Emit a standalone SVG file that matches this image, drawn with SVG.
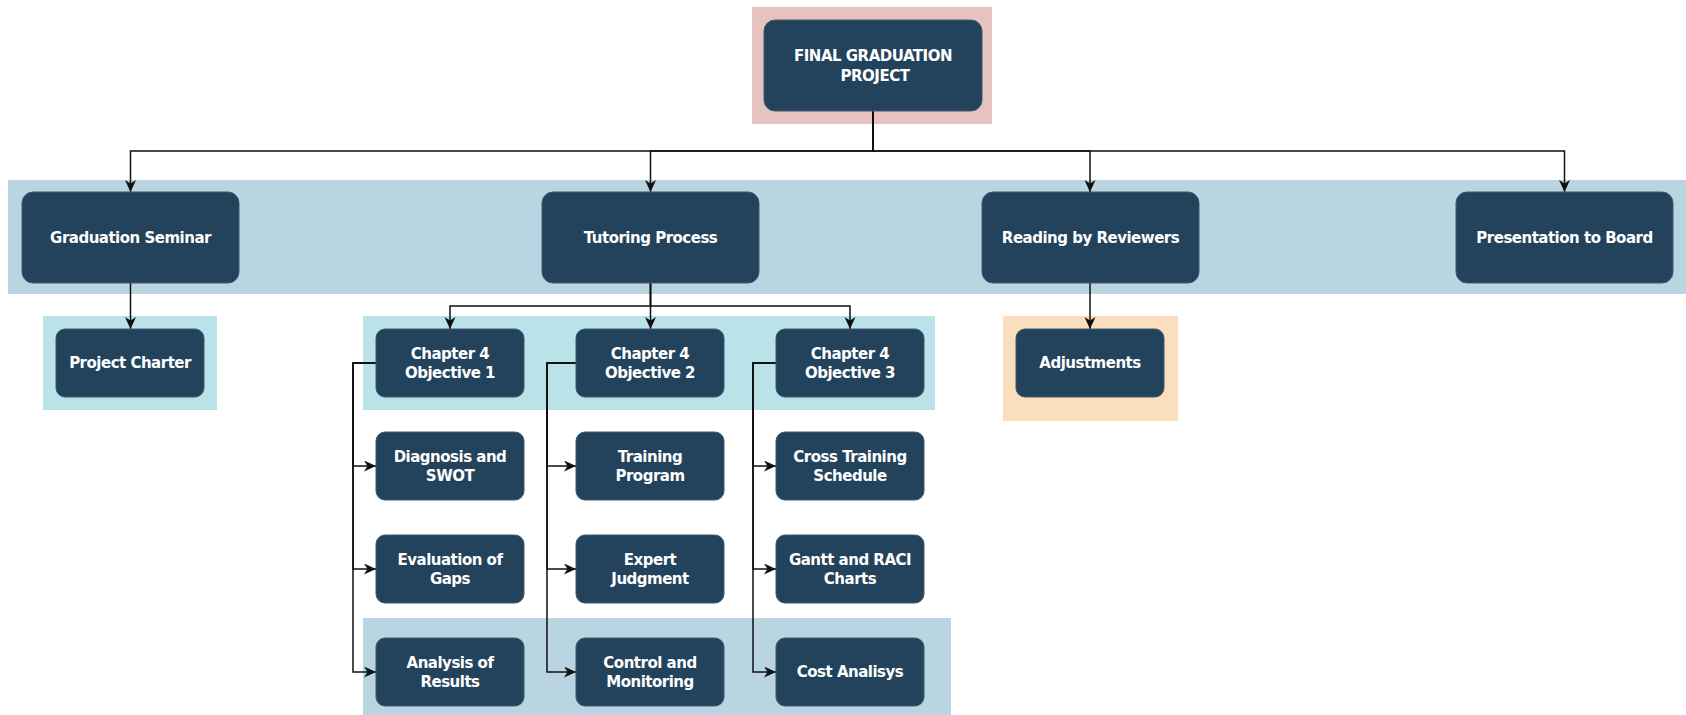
<svg xmlns="http://www.w3.org/2000/svg" width="1686" height="715" viewBox="0 0 1686 715">
  <defs>
    <marker id="arrow" markerUnits="userSpaceOnUse" markerWidth="14" markerHeight="12" refX="12" refY="5.5" orient="auto">
      <path d="M0,0 L12,5.5 L0,11 L3.5,5.5 Z" fill="#111"/>
    </marker>
    <style>
      .node { fill: #23435c; stroke: #3e5b71; stroke-width: 1; }
      .lbl { font-family: "DejaVu Sans", Verdana, sans-serif; font-weight: bold; font-size: 15px; fill: #ffffff; text-anchor: middle; letter-spacing: -0.5px; }
      .conn-a { fill: none; stroke: #111; stroke-width: 1.5; marker-end: url(#arrow); }
    </style>
  </defs>

  <rect width="1686" height="715" fill="#ffffff"/>

  <!-- background bands -->
  <g id="backgrounds">
    <rect x="752" y="7" width="240" height="117" fill="#e6c3c0"/>
    <rect x="8" y="180" width="1678" height="114" fill="#b8d5e1"/>
    <rect x="43" y="316" width="174" height="94" fill="#b9e3e8"/>
    <rect x="363" y="316" width="572" height="94" fill="#b9e3e8"/>
    <rect x="1003" y="316" width="175" height="105" fill="#fbdebd"/>
    <rect x="363" y="618" width="588" height="97" fill="#b8d5e1"/>
  </g>

  <!-- connectors -->
  <g id="connectors">
    <path class="conn-a" d="M873,111 V151 H130.5 V192"/>
    <path class="conn-a" d="M873,111 V151 H650.5 V192"/>
    <path class="conn-a" d="M873,111 V151 H1090 V192"/>
    <path class="conn-a" d="M873,111 V151 H1564.5 V192"/>

    <path class="conn-a" d="M130.5,283 V329"/>
    <path class="conn-a" d="M650.5,283 V306 H450 V329"/>
    <path class="conn-a" d="M650.5,283 V329"/>
    <path class="conn-a" d="M650.5,283 V306 H850 V329"/>
    <path class="conn-a" d="M1090,283 V329"/>

    <path class="conn-a" d="M376,363 H353 V466 H376"/>
    <path class="conn-a" d="M376,363 H353 V569 H376"/>
    <path class="conn-a" d="M376,363 H353 V672 H376"/>

    <path class="conn-a" d="M576,363 H547 V466 H576"/>
    <path class="conn-a" d="M576,363 H547 V569 H576"/>
    <path class="conn-a" d="M576,363 H547 V672 H576"/>

    <path class="conn-a" d="M776,363 H753 V466 H776"/>
    <path class="conn-a" d="M776,363 H753 V569 H776"/>
    <path class="conn-a" d="M776,363 H753 V672 H776"/>
  </g>

  <!-- root -->
  <g id="final-graduation-project">
    <rect class="node" x="764" y="20" width="218" height="91" rx="11"/>
    <text class="lbl" x="873" y="60.5">FINAL GRADUATION</text>
    <text class="lbl" x="875" y="81">PROJECT</text>
  </g>

  <!-- level 1 -->
  <g id="graduation-seminar">
    <rect class="node" x="22" y="192" width="217" height="91" rx="11"/>
    <text class="lbl" x="130.5" y="243">Graduation Seminar</text>
  </g>
  <g id="tutoring-process">
    <rect class="node" x="542" y="192" width="217" height="91" rx="11"/>
    <text class="lbl" x="650.5" y="243">Tutoring Process</text>
  </g>
  <g id="reading-by-reviewers">
    <rect class="node" x="982" y="192" width="217" height="91" rx="11"/>
    <text class="lbl" x="1090.5" y="243">Reading by Reviewers</text>
  </g>
  <g id="presentation-to-board">
    <rect class="node" x="1456" y="192" width="217" height="91" rx="11"/>
    <text class="lbl" x="1564.5" y="243">Presentation to Board</text>
  </g>

  <!-- level 2 -->
  <g id="project-charter">
    <rect class="node" x="56" y="329" width="148" height="68" rx="9"/>
    <text class="lbl" x="130" y="368">Project Charter</text>
  </g>
  <g id="chapter4-objective1">
    <rect class="node" x="376" y="329" width="148" height="68" rx="9"/>
    <text class="lbl" x="450" y="358.5">Chapter 4</text>
    <text class="lbl" x="450" y="378">Objective 1</text>
  </g>
  <g id="chapter4-objective2">
    <rect class="node" x="576" y="329" width="148" height="68" rx="9"/>
    <text class="lbl" x="650" y="358.5">Chapter 4</text>
    <text class="lbl" x="650" y="378">Objective 2</text>
  </g>
  <g id="chapter4-objective3">
    <rect class="node" x="776" y="329" width="148" height="68" rx="9"/>
    <text class="lbl" x="850" y="358.5">Chapter 4</text>
    <text class="lbl" x="850" y="378">Objective 3</text>
  </g>
  <g id="adjustments">
    <rect class="node" x="1016" y="329" width="148" height="68" rx="9"/>
    <text class="lbl" x="1090" y="368">Adjustments</text>
  </g>

  <!-- objective 1 tasks -->
  <g id="diagnosis-swot">
    <rect class="node" x="376" y="432" width="148" height="68" rx="9"/>
    <text class="lbl" x="450" y="461.5">Diagnosis and</text>
    <text class="lbl" x="450" y="481">SWOT</text>
  </g>
  <g id="evaluation-of-gaps">
    <rect class="node" x="376" y="535" width="148" height="68" rx="9"/>
    <text class="lbl" x="450" y="564.5">Evaluation of</text>
    <text class="lbl" x="450" y="584">Gaps</text>
  </g>
  <g id="analysis-of-results">
    <rect class="node" x="376" y="638" width="148" height="68" rx="9"/>
    <text class="lbl" x="450" y="667.5">Analysis of</text>
    <text class="lbl" x="450" y="687">Results</text>
  </g>

  <!-- objective 2 tasks -->
  <g id="training-program">
    <rect class="node" x="576" y="432" width="148" height="68" rx="9"/>
    <text class="lbl" x="650" y="461.5">Training</text>
    <text class="lbl" x="650" y="481">Program</text>
  </g>
  <g id="expert-judgment">
    <rect class="node" x="576" y="535" width="148" height="68" rx="9"/>
    <text class="lbl" x="650" y="564.5">Expert</text>
    <text class="lbl" x="650" y="584">Judgment</text>
  </g>
  <g id="control-monitoring">
    <rect class="node" x="576" y="638" width="148" height="68" rx="9"/>
    <text class="lbl" x="650" y="667.5">Control and</text>
    <text class="lbl" x="650" y="687">Monitoring</text>
  </g>

  <!-- objective 3 tasks -->
  <g id="cross-training-schedule">
    <rect class="node" x="776" y="432" width="148" height="68" rx="9"/>
    <text class="lbl" x="850" y="461.5">Cross Training</text>
    <text class="lbl" x="850" y="481">Schedule</text>
  </g>
  <g id="gantt-raci-charts">
    <rect class="node" x="776" y="535" width="148" height="68" rx="9"/>
    <text class="lbl" x="850" y="564.5">Gantt and RACI</text>
    <text class="lbl" x="850" y="584">Charts</text>
  </g>
  <g id="cost-analysis">
    <rect class="node" x="776" y="638" width="148" height="68" rx="9"/>
    <text class="lbl" x="850" y="677">Cost Analisys</text>
  </g>
</svg>
